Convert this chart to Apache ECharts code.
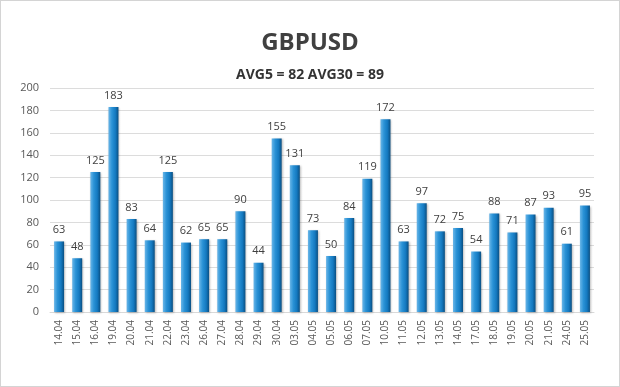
<!DOCTYPE html>
<html><head><meta charset="utf-8">
<script src="https://cdn.jsdelivr.net/npm/echarts@6/dist/echarts.min.js"></script>
<style>html,body{margin:0;padding:0;background:#fff}#c{width:620px;height:387px;box-sizing:border-box;border:1px solid #d4d4d4}</style>
</head><body><div id="c"></div>
<script>
var categories = ["14.04","15.04","16.04","19.04","20.04","21.04","22.04","23.04","26.04","27.04","28.04","29.04","30.04","03.05","04.05","05.05","06.05","07.05","10.05","11.05","12.05","13.05","14.05","17.05","18.05","19.05","20.05","21.05","24.05","25.05"];
var values = [63,48,125,183,83,64,125,62,65,65,90,44,155,131,73,50,84,119,172,63,97,72,75,54,88,71,87,93,61,95];
var yTicks = [0,20,40,60,80,100,120,140,160,180,200];
var titleText = "GBPUSD";
var subtitleText = "AVG5 = 82 AVG30 = 89";

var chart = echarts.init(document.getElementById('c'), null, {renderer:'canvas'});
chart.setOption({
  backgroundColor:'#fff',
  animation:false,
  title:{
    text:titleText, subtext:subtitleText, left:'center', top:25, itemGap:13,
    textStyle:{fontFamily:'Open Sans', fontWeight:'bold', fontSize:24, color:'#404040'},
    subtextStyle:{fontFamily:'Open Sans', fontWeight:'bold', fontSize:14, color:'#333'}
  },
  grid:{left:49, right:25, top:87, bottom:74},
  xAxis:{
    type:'category', data:categories,
    axisLine:{show:true, lineStyle:{color:'#d9d9d9'}}, axisTick:{show:false},
    axisLabel:{rotate:90, interval:0, fontFamily:'Open Sans', fontSize:10, color:'#595959', margin:8}
  },
  yAxis:{
    type:'value', min:0, max:200, interval:20,
    axisLine:{show:false}, axisTick:{show:false},
    splitLine:{lineStyle:{color:'#dcdcdc'}},
    axisLabel:{fontFamily:'Open Sans', fontSize:11, color:'#595959', margin:11,
      formatter:function(v){return yTicks.indexOf(v)>=0?String(v):'';}}
  },
  series:[{
    type:'bar', data:values, barWidth:10,
    itemStyle:{color:new echarts.graphic.LinearGradient(0,0,1,0,[
      {offset:0,color:'#6ab6e8'},{offset:0.35,color:'#2a92d6'},{offset:0.7,color:'#1479c0'},{offset:1,color:'#0a4f82'}]),
      shadowColor:'rgba(0,0,0,0.25)', shadowBlur:2, shadowOffsetX:1, shadowOffsetY:1},
    label:{show:true, position:'top', distance:6, fontFamily:'Open Sans', fontSize:11, color:'#404040'}
  }]
});
</script></body></html>
